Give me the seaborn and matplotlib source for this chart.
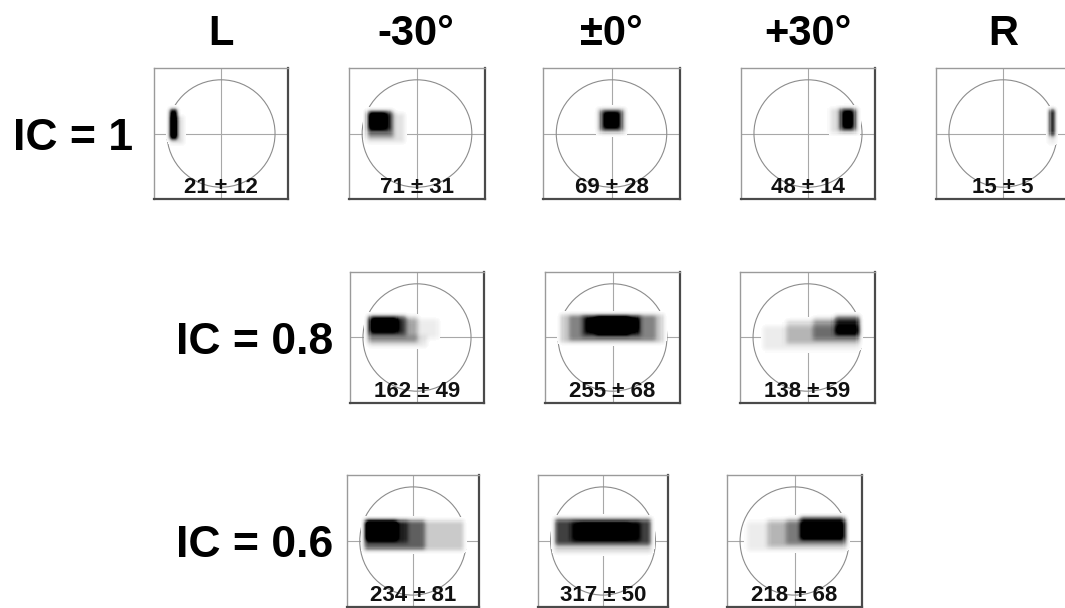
import numpy as np
import matplotlib
matplotlib.use("Agg")
import matplotlib.pyplot as plt
from matplotlib.patches import Ellipse
import seaborn as sns

# ---------------- data ----------------
columns = ["L", "-30°", "±0°", "+30°", "R"]
row_labels = ["IC = 1", "IC = 0.8", "IC = 0.6"]

# which columns are present in each row
row_columns = [[0, 1, 2, 3, 4], [1, 2, 3], [1, 2, 3]]

mean_ic1 = [21, 71, 69, 48, 15]
sd_ic1 = [12, 31, 28, 14, 5]
mean_ic08 = [162, 255, 138]
sd_ic08 = [49, 68, 59]
mean_ic06 = [234, 317, 218]
sd_ic06 = [81, 50, 68]

# density layers per panel: (x0, x1, y0, y1, weight) in units of the circle radius
blob_ic1_L = [(-0.93, -0.68, -0.20, 0.32, 0.22), (-0.94, -0.83, -0.10, 0.46, 1.30)]
blob_ic1_m30 = [(-0.92, -0.22, -0.18, 0.38, 0.20), (-0.92, -0.42, -0.08, 0.44, 0.35),
                (-0.90, -0.48, 0.04, 0.42, 0.45), (-0.86, -0.58, 0.10, 0.38, 0.40)]
blob_ic1_0 = [(-0.26, 0.26, 0.00, 0.47, 0.25), (-0.20, 0.20, 0.05, 0.44, 0.55),
              (-0.14, 0.14, 0.10, 0.40, 0.40)]
blob_ic1_p30 = [(0.40, 0.94, 0.00, 0.48, 0.22), (0.58, 0.88, 0.04, 0.47, 0.55),
                (0.64, 0.84, 0.10, 0.42, 0.45)]
blob_ic1_R = [(0.84, 0.97, -0.20, 0.46, 0.18), (0.87, 0.94, -0.05, 0.45, 1.30)]

blob_ic08_m30 = [(-0.92, 0.40, -0.02, 0.34, 0.15), (-0.90, 0.18, -0.18, 0.02, 0.18),
                 (-0.92, 0.02, -0.10, 0.40, 0.30), (-0.90, -0.20, 0.04, 0.42, 0.40),
                 (-0.86, -0.36, 0.10, 0.38, 0.40)]
blob_ic08_0 = [(-0.96, 0.94, -0.10, 0.44, 0.32), (-0.80, 0.80, -0.06, 0.42, 0.25),
               (-0.55, 0.52, 0.03, 0.42, 0.30), (-0.45, 0.45, 0.10, 0.36, 0.40),
               (-0.30, 0.30, 0.05, 0.40, 0.30)]
blob_ic08_p30 = [(-0.82, 0.96, -0.24, 0.22, 0.15), (-0.40, 0.96, -0.12, 0.32, 0.25),
                 (0.10, 0.96, -0.04, 0.38, 0.25), (0.50, 0.96, 0.04, 0.42, 0.45)]

blob_ic06_m30 = [(-0.92, 0.96, -0.18, 0.38, 0.32), (-0.92, 0.22, -0.16, 0.40, 0.38),
                 (-0.90, -0.10, -0.05, 0.40, 0.20), (-0.88, -0.30, 0.02, 0.38, 0.50)]
blob_ic06_0 = [(-0.93, 0.93, -0.22, 0.44, 0.25), (-0.91, 0.91, -0.08, 0.39, 0.55),
               (-0.60, 0.70, 0.00, 0.36, 0.25), (-0.45, 0.50, 0.06, 0.32, 0.30)]
blob_ic06_p30 = [(-0.88, 0.96, -0.18, 0.36, 0.15), (-0.50, 0.96, -0.12, 0.40, 0.25),
                 (-0.15, 0.96, -0.06, 0.42, 0.20), (0.10, 0.92, 0.02, 0.46, 0.55)]

blobs = [[blob_ic1_L, blob_ic1_m30, blob_ic1_0, blob_ic1_p30, blob_ic1_R],
         [blob_ic08_m30, blob_ic08_0, blob_ic08_p30],
         [blob_ic06_m30, blob_ic06_0, blob_ic06_p30]]
means = [mean_ic1, mean_ic08, mean_ic06]
sds = [sd_ic1, sd_ic08, sd_ic06]

# ---------------- layout (pixels) ----------------
W, H = 1065, 608
row_tops = [68, 272, 475]
row_heights = [131, 131, 132]
row_lefts = [[154, 349, 543, 741, 936], [350, 545, 740], [347, 538, 727]]
row_widths = [[134, 136, 137, 134, 134], [134, 135, 135], [132, 130, 135]]
col_centers = [221, 416, 611, 808, 1003]
row_label_right = [133, 333, 333]
row_label_baseline = [150, 354, 557]

XL, YL, CELL = 1.24, 1.22, 0.02
nx, ny = int(round(2 * XL / CELL)), int(round(2 * YL / CELL))
xc = -XL + CELL * (np.arange(nx) + 0.5)
yc = YL - CELL * (np.arange(ny) + 0.5)   # top row first
XX, YY = np.meshgrid(xc, yc)


def smooth(a, k=5, n=2):
    ker = np.ones(k) / k
    for _ in range(n):
        a = np.apply_along_axis(lambda r: np.convolve(r, ker, mode="same"), 1, a)
        a = np.apply_along_axis(lambda c: np.convolve(c, ker, mode="same"), 0, a)
    return a


sns.set_theme(style="white")
plt.rcParams["font.family"] = ["Liberation Sans", "DejaVu Sans"]

fig = plt.figure(figsize=(W / 100, H / 100), dpi=100)
fig.patch.set_facecolor("white")

for c, lab in enumerate(columns):
    fig.text(col_centers[c] / W, 1 - 45 / H, lab, ha="center", va="baseline",
             fontsize=30, fontweight="bold", color="black")

for r in range(3):
    fig.text(row_label_right[r] / W, 1 - row_label_baseline[r] / H, row_labels[r],
             ha="right", va="baseline", fontsize=32, fontweight="bold", color="black")
    for k, col in enumerate(row_columns[r]):
        left = row_lefts[r][k]
        w = row_widths[r][k]
        top = row_tops[r]
        h = row_heights[r]
        ax = fig.add_axes([left / W, 1 - (top + h) / H, w / W, h / H])
        ax.set_facecolor("white")
        dens = np.zeros_like(XX)
        for (x0, x1, y0, y1, wt) in blobs[r][k]:
            dens += wt * ((XX >= x0) & (XX <= x1) & (YY >= y0) & (YY <= y1))
        dens = np.clip(smooth(dens), 0, 1)
        # reference lines beneath the density
        ax.axhline(ny / 2, color="#a8a8a8", lw=0.8, zorder=0.2)
        ax.axvline(nx / 2, color="#a8a8a8", lw=0.8, zorder=0.2)
        ax.add_patch(Ellipse((nx / 2, ny / 2), 2 / CELL, 2 / CELL, fill=False,
                             ec="#8c8c8c", lw=0.8, zorder=0.3))
        sns.heatmap(dens, ax=ax, cmap="Greys", vmin=0, vmax=1, cbar=False,
                    xticklabels=False, yticklabels=False, mask=dens < 0.03)
        ax.set_xlim(0, nx)
        ax.set_ylim(ny, 0)
        for s in ["left", "top"]:
            ax.spines[s].set_visible(True)
            ax.spines[s].set_color("#9a9a9a")
            ax.spines[s].set_linewidth(1.0)
        for s in ["right", "bottom"]:
            ax.spines[s].set_visible(True)
            ax.spines[s].set_color("#4a4a4a")
            ax.spines[s].set_linewidth(1.6)
        ax.text(0.5, 0.045, f"{means[r][k]} ± {sds[r][k]}", transform=ax.transAxes,
                ha="center", va="baseline", fontsize=16, fontweight="bold",
                color="#111111", zorder=5)

fig.savefig("out.png", dpi=100, facecolor="white")
